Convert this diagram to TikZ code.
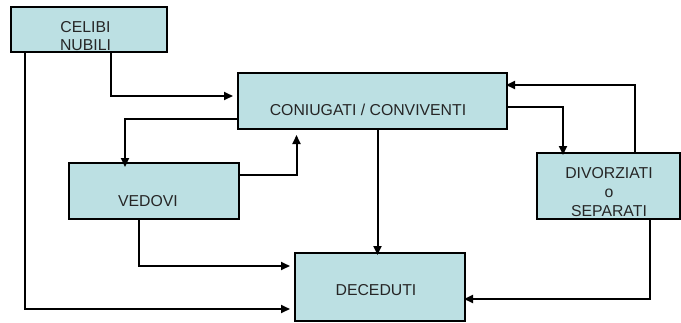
\documentclass[tikz,border=0pt]{standalone}
\usepackage{fontspec}
\setmainfont{Liberation Sans}
\usetikzlibrary{arrows.meta, positioning}
\definecolor{statofill}{RGB}{188,224,227}

\begin{document}
\begin{tikzpicture}[x=1pt, y=-1pt,
    stato/.style={draw=black, line width=2pt, fill=statofill, inner sep=0pt},
    etic/.style={font=\fontsize{15.8}{18.5}\selectfont, align=center, text=black!85},
    freccia/.style={line width=2pt, -{Triangle[length=9pt, width=8pt]}}]
  \useasboundingbox (0,0) rectangle (681,322);

  % stati
  \node[stato, minimum width=156pt, minimum height=45pt] (celibi) at (89,29.5) {};
  \node[etic] at (85.5,36) {CELIBI\\NUBILI};
  \node[stato, minimum width=269pt, minimum height=56pt] (coniugati) at (372.5,101) {};
  \node[etic] at (368,110) {CONIUGATI / CONVIVENTI};
  \node[stato, minimum width=170pt, minimum height=56pt] (vedovi) at (154,191) {};
  \node[etic] at (148,201) {VEDOVI};
  \node[stato, minimum width=143pt, minimum height=66pt] (divorziati) at (608,186) {};
  \node[etic, font=\fontsize{15.8}{18.7}\selectfont] at (609,192) {DIVORZIATI\\o\\SEPARATI};
  \node[stato, minimum width=170pt, minimum height=68pt] (deceduti) at (380,287) {};
  \node[etic] at (376,290) {DECEDUTI};

  % transizioni
  \draw[freccia, shorten >=4pt] ([xshift=22pt]celibi.south) |- ([yshift=5pt]coniugati.west);
  \draw[freccia, shorten >=4pt] ([xshift=-64pt]celibi.south) |- ([yshift=-22pt]deceduti.west);
  \draw[freccia, shorten >=-5pt] ([yshift=-18pt]coniugati.west) -| ([xshift=-29pt]vedovi.north);
  \draw[freccia, shorten >=5pt] ([yshift=16pt]vedovi.east) -| ([xshift=-76pt]coniugati.south);
  \draw[freccia, shorten >=4pt] ([xshift=-15pt]vedovi.south) |- ([yshift=21pt]deceduti.west);
  \draw[freccia, shorten >=-3pt] ([xshift=5pt]coniugati.south) -- ([xshift=5pt]coniugati.south |- deceduti.north);
  \draw[freccia, shorten >=-3pt] ([yshift=-6pt]coniugati.east) -| ([xshift=-45pt]divorziati.north);
  \draw[freccia, shorten >=-2pt] ([xshift=27pt]divorziati.north) |- ([yshift=16pt]coniugati.east);
  \draw[freccia, shorten >=-2pt] ([xshift=42pt]divorziati.south) |- ([yshift=-12pt]deceduti.east);
\end{tikzpicture}
\end{document}
